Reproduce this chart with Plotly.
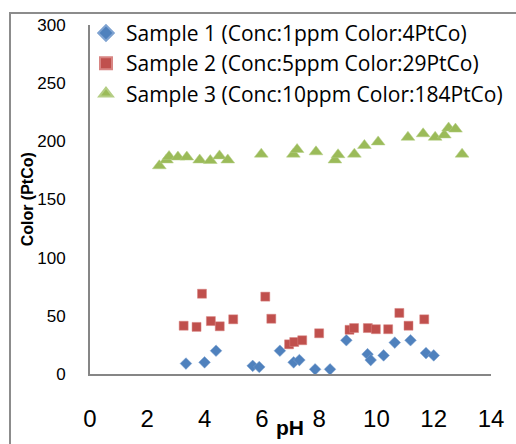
import plotly.graph_objects as go

# pH vs colour readings
s1_ph = [3.35, 4.0, 4.4, 5.68, 5.91, 6.63, 7.11, 7.31, 7.86, 8.38, 8.95,
         9.69, 9.8, 10.25, 10.64, 11.19, 11.73, 12.0]
s1_color = [9, 10, 20, 7, 6, 20, 10, 12, 4, 4, 29, 17, 12, 16, 27, 29, 18, 16]

s2_ph = [3.27, 3.72, 3.91, 4.22, 4.53, 5.0, 6.12, 6.33, 6.95, 7.13, 7.41,
         8.0, 9.06, 9.22, 9.7, 9.98, 10.41, 10.8, 11.12, 11.67]
s2_color = [41.5, 40.5, 69, 45.5, 41, 47, 66.5, 47.5, 25.5, 27.5, 29, 35,
            38, 39.5, 39.5, 38.5, 38.5, 52.5, 41.5, 47]

s3_ph = [2.42, 2.67, 2.76, 3.07, 3.38, 3.83, 4.2, 4.52, 4.81, 5.98, 7.1,
         7.23, 7.89, 8.55, 8.66, 9.23, 9.58, 10.06, 11.1, 11.63, 12.05,
         12.37, 12.52, 12.76, 12.99]
s3_color = [179, 184, 187, 186.5, 186.5, 184, 183.5, 187.5, 184, 189, 189,
            193, 191, 184, 188.5, 189, 196.5, 199.5, 203.5, 206.5, 203.5,
            205.5, 211.5, 210.5, 189]

names = ['Sample 1 (Conc:1ppm Color:4PtCo)',
         'Sample 2 (Conc:5ppm Color:29PtCo)',
         'Sample 3 (Conc:10ppm Color:184PtCo)']

x_ticks = [0, 2, 4, 6, 8, 10, 12, 14]
y_ticks = [0, 50, 100, 150, 200, 250, 300]

fig = go.Figure()
fig.add_trace(go.Scatter(x=s1_ph, y=s1_color, mode='markers', name=names[0],
                         marker=dict(symbol='diamond', size=9, color='#4F81BD',
                                     line=dict(width=0.5, color='#7FA3D1'))))
fig.add_trace(go.Scatter(x=s2_ph, y=s2_color, mode='markers', name=names[1],
                         marker=dict(symbol='square', size=9, color='#C0504D',
                                     line=dict(width=0.5, color='#D88583'))))
fig.add_trace(go.Scatter(x=s3_ph, y=s3_color, mode='markers', name=names[2],
                         marker=dict(symbol='triangle-up', size=12, color='#9BBB59',
                                     line=dict(width=0.5, color='#B5CE85'))))

fig.add_annotation(text='<b>pH</b>', xref='paper', yref='paper', x=0.498, y=-0.152,
                   xanchor='center', yanchor='middle', showarrow=False,
                   font=dict(size=21, color='black', family='Liberation Sans, Arial'))
fig.add_annotation(text='<b>Color (PtCo)</b>', xref='paper', yref='paper',
                   x=-0.155, y=0.5, xanchor='center', yanchor='middle',
                   textangle=-90, showarrow=False,
                   font=dict(size=16, color='black', family='Liberation Sans, Arial'))

fig.update_layout(
    width=516, height=444,
    margin=dict(l=90, r=15, t=25, b=69),
    paper_bgcolor='rgba(0,0,0,0)', plot_bgcolor='rgba(0,0,0,0)',
    font=dict(family='Liberation Sans, Arial', color='black'),
    showlegend=True,
    legend=dict(x=-0.01, y=1.035, xanchor='left', yanchor='top',
                bgcolor='rgba(0,0,0,0)',
                font=dict(size=21, family='Open Sans, Liberation Sans'),
                tracegroupgap=0, itemsizing='constant'),
    xaxis=dict(range=[0, 14], tickvals=x_ticks, showgrid=False, zeroline=False,
               showline=True, linecolor='#868686', linewidth=2, ticks='',
               ticklabelstandoff=22, tickfont=dict(size=24)),
    yaxis=dict(range=[0, 300], tickvals=y_ticks, showgrid=False, zeroline=False,
               showline=True, linecolor='#868686', linewidth=2, ticks='',
               ticklabelstandoff=19, tickfont=dict(size=17)),
)

# outer frame of the source picture (left + top edges) painted as the
# div background behind the transparent figure
frame_js = ("document.body.style.margin='0';"
            "document.body.style.overflow='hidden';"
            "var d=document.querySelector('.plotly-graph-div');"
            "d.style.background="
            "'linear-gradient(#8C8C8C,#8C8C8C) 9px 12px/2px 100% no-repeat,"
            "linear-gradient(#8C8C8C,#8C8C8C) 9px 12px/100% 2px no-repeat,"
            "#ffffff';")

fig.write_html('out.html', config={'displayModeBar': False}, post_script=frame_js)
